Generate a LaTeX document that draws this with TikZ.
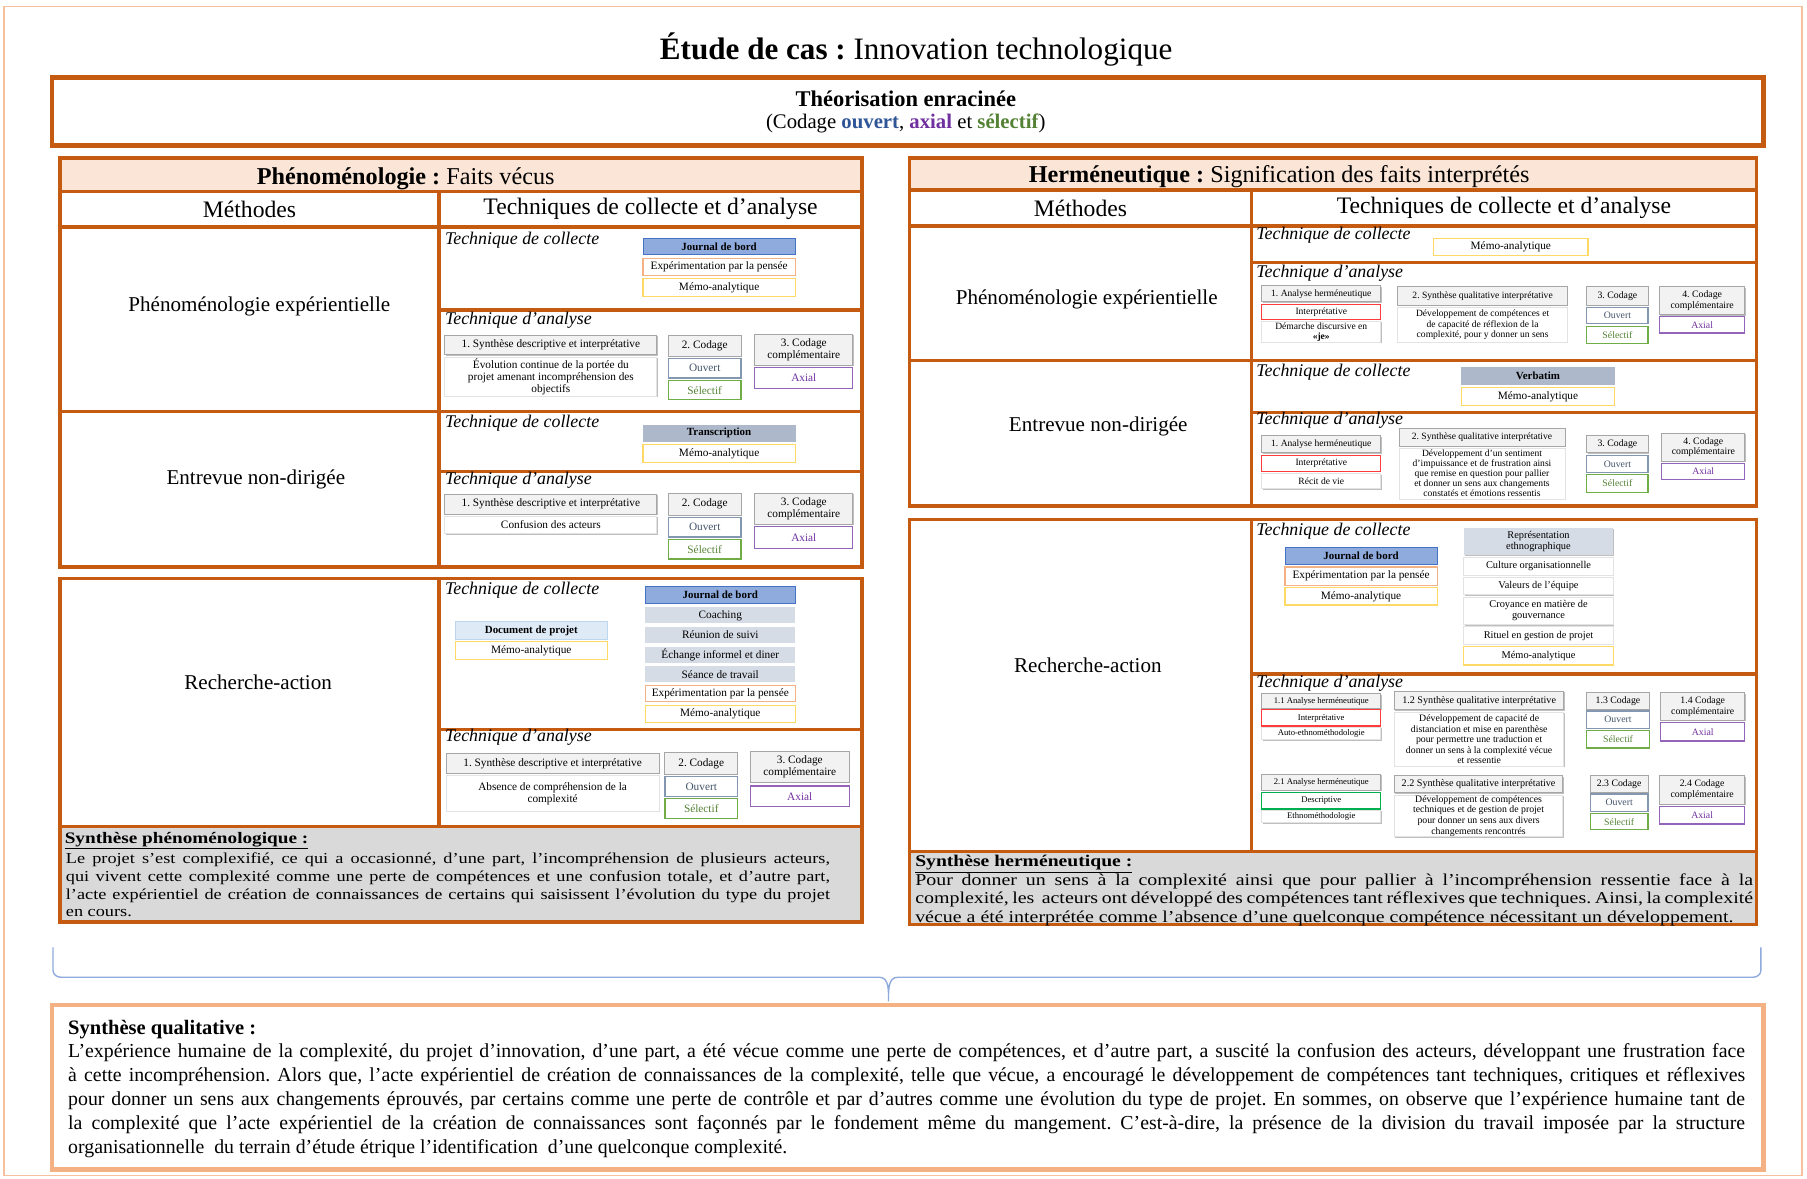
\documentclass[tikz,border=0pt]{standalone}
\usepackage{fontspec}
\setmainfont{Liberation Serif}
\newfontfamily\widefont{Liberation Serif}[FakeStretch=1.2]
\usetikzlibrary{shadows}
\frenchspacing

\definecolor{rust}{HTML}{C55A11}
\definecolor{peach}{HTML}{FBE5D6}
\definecolor{paleorange}{HTML}{F4B183}
\definecolor{jblue}{HTML}{8FAADC}
\definecolor{jblueline}{HTML}{4472C4}
\definecolor{slate}{HTML}{ADB9CA}
\definecolor{slateline}{HTML}{8497B0}
\definecolor{mist}{HTML}{D6DCE5}
\definecolor{ice}{HTML}{DEEBF7}
\definecolor{iceline}{HTML}{BDD7EE}
\definecolor{memoline}{HTML}{FFD966}
\definecolor{ouvtext}{HTML}{44546A}
\definecolor{seltext}{HTML}{548235}
\definecolor{selline}{HTML}{70AD47}
\definecolor{axicol}{HTML}{7030A0}
\definecolor{redline}{HTML}{FF3B3B}
\definecolor{greenline}{HTML}{00B050}
\definecolor{synthgrey}{HTML}{D9D9D9}
\definecolor{headgrey}{HTML}{F2F2F2}
\definecolor{headline}{HTML}{A6A6A6}
\definecolor{faint}{HTML}{E3E3E3}
\definecolor{bracecol}{HTML}{8FAADC}
\definecolor{codblue}{HTML}{2F5597}

% a box given by its top-left and bottom-right corners
\newcommand\Tbox[7]{\node[#1, anchor=north west, outer sep=0pt, inner sep=0pt,
  minimum width={(#5)-(#3)}, minimum height={(#6)-(#4)}] (#2) at (#3,#4) {#7};}

\tikzset{
  cellbox/.style={draw=rust, line width=3pt},
  boxbase/.style={align=center, line width=0.8pt},
  fL/.style={font=\fontsize{9.8}{10.5}\selectfont},
  fM/.style={font=\fontsize{8.5}{9.3}\selectfont},
  fR/.style={font=\fontsize{8.3}{9}\selectfont},
  fS/.style={font=\fontsize{7.5}{8.5}\selectfont},
  softshadow/.style={drop shadow={shadow xshift=0.8pt, shadow yshift=-0.8pt, opacity=0.25, fill=black}},
  hdrbox/.style={boxbase, fill=headgrey, draw=headline, softshadow},
  whitebox/.style={boxbase, fill=white, draw=faint, softshadow},
  ouvbox/.style={boxbase, fill=white, draw=slateline, text=ouvtext, line width=1pt},
  selbox/.style={boxbase, fill=white, draw=selline, text=seltext, line width=1pt},
  axibox/.style={boxbase, fill=white, draw=axicol!75, text=axicol, line width=1pt},
  jdbbox/.style={boxbase, fill=jblue, draw=jblueline, font=\fontsize{9.5}{10}\selectfont\bfseries},
  trsbox/.style={boxbase, fill=slate, draw=slate, font=\fontsize{9.5}{10}\selectfont\bfseries},
  docbox/.style={boxbase, fill=ice, draw=iceline, font=\fontsize{9.5}{10}\selectfont\bfseries},
  expbox/.style={boxbase, fill=white, draw=paleorange, line width=1pt},
  memobox/.style={boxbase, fill=white, draw=memoline, line width=1pt},
  greybox/.style={boxbase, fill=mist, draw=none},
  redbox/.style={boxbase, fill=white, draw=redline, line width=1pt},
  grnbox/.style={boxbase, fill=white, draw=greenline, line width=1pt},
  capt/.style={anchor=west, inner sep=0pt, font=\fontsize{15.5}{17}\selectfont\itshape},
  methtxt/.style={font=\fontsize{18.3}{20}\selectfont},
  colhead/.style={font=\fontsize{20.5}{22}\selectfont},
  panelhead/.style={font=\fontsize{21}{23}\selectfont},
}

\begin{document}
\begin{tikzpicture}[x=1pt,y=-1pt]
\useasboundingbox (0,0) rectangle (1568,1023);
\fill[white] (0,0) rectangle (1568,1023);
\draw[paleorange!80, line width=1.2pt] (3.5,5.5) rectangle (1563.5,1020);

% ---------- title and banner ----------
\node[font=\fontsize{27}{29}\selectfont] (title) at (795,43) {\textbf{Étude de cas :} Innovation technologique};
\Tbox{draw=rust, line width=4pt}{gt}{45}{67}{1530}{126}{}
\node[font=\fontsize{19.5}{21}\selectfont\bfseries] (gtA) at (786,86) {Théorisation enracinée};
\node[font=\fontsize{18}{20}\selectfont] (gtB) at (786,107.5) {(Codage \textcolor{codblue}{\textbf{ouvert}}, \textcolor{axicol}{\textbf{axial}} et \textcolor{seltext}{\textbf{sélectif}})};

% ---------- left panel: phenomenology ----------
\Tbox{cellbox, fill=peach}{Lhead}{52}{137}{748}{166}{}
\node[panelhead] (LheadT) at (352,155) {\textbf{Phénoménologie :} Faits vécus};
\Tbox{cellbox, colhead}{Lmeth}{52}{166}{381}{197}{Méthodes}
\Tbox{cellbox, colhead}{Ltech}{381}{166}{748}{197}{Techniques de collecte et d’analyse}
\Tbox{cellbox}{Lm1}{52}{197}{381}{357}{}
\Tbox{cellbox}{Lc1}{381}{197}{748}{269}{}
\Tbox{cellbox}{La1}{381}{269}{748}{357}{}
\Tbox{cellbox}{Lm2}{52}{357}{381}{492}{}
\Tbox{cellbox}{Lc2}{381}{357}{748}{409}{}
\Tbox{cellbox}{La2}{381}{409}{748}{492}{}
\Tbox{cellbox}{Lm3}{52}{502}{381}{717}{}
\Tbox{cellbox}{Lc3}{381}{502}{748}{633}{}
\Tbox{cellbox}{La3}{381}{633}{748}{717}{}
\Tbox{cellbox, fill=synthgrey}{Lsyn}{52}{717}{748}{800}{}

\node[methtxt] (Lm1T) at (225,266) {Phénoménologie expérientielle};
\node[methtxt] (Lm2T) at (222,416) {Entrevue non-dirigée};
\node[methtxt] (Lm3T) at (224,592) {Recherche-action};

\node[capt] (Lc1T) at (386,208) {Technique de collecte};
\node[capt] (La1T) at (386,278) {Technique d’analyse};
\node[capt] (Lc2T) at (386,367) {Technique de collecte};
\node[capt] (La2T) at (386,417) {Technique d’analyse};
\node[capt] (Lc3T) at (386,512) {Technique de collecte};
\node[capt] (La3T) at (386,640) {Technique d’analyse};

% row 1
\Tbox{jdbbox}{jdb1}{558}{207}{690}{221}{Journal de bord}
\Tbox{expbox, fL}{exp1}{558}{224}{690}{239}{Expérimentation  par la pensée}
\Tbox{memobox, fL}{memo1}{558}{242}{690}{257}{Mémo-analytique}
\Tbox{hdrbox, fL}{syn1h}{386}{291}{570}{308}{1. Synthèse descriptive et interprétative}
\Tbox{whitebox, fL}{syn1t}{386}{310}{570}{344}{Évolution continue de la portée du\\projet amenant incompréhension des\\objectifs}
\Tbox{hdrbox, fL}{cod1h}{580}{291}{643}{309}{2. Codage}
\Tbox{ouvbox, fL}{ouv1}{580}{311}{643}{328}{Ouvert}
\Tbox{selbox, fL}{sel1}{580}{330}{643}{347}{Sélectif}
\Tbox{hdrbox, fL}{cpl1h}{655}{290}{740}{317}{3. Codage\\complémentaire}
\Tbox{axibox, fL}{axi1}{655}{319}{740}{337}{Axial}

% row 2
\Tbox{trsbox}{trs2}{558}{369}{690}{383}{Transcription}
\Tbox{memobox, fL}{memo2}{558}{386}{690}{401}{Mémo-analytique}
\Tbox{hdrbox, fL}{syn2h}{386}{429}{570}{446}{1. Synthèse descriptive et interprétative}
\Tbox{whitebox, fL}{syn2t}{386}{448}{570}{463}{Confusion des acteurs}
\Tbox{hdrbox, fL}{cod2h}{580}{428}{643}{447}{2. Codage}
\Tbox{ouvbox, fL}{ouv2}{580}{449}{643}{466}{Ouvert}
\Tbox{selbox, fL}{sel2}{580}{468}{643}{485}{Sélectif}
\Tbox{hdrbox, fL}{cpl2h}{655}{428}{740}{455}{3. Codage\\complémentaire}
\Tbox{axibox, fL}{axi2}{655}{457}{740}{476}{Axial}

% row 3
\Tbox{docbox}{doc3}{395}{539}{527}{555}{Document de projet}
\Tbox{memobox, fL}{memo3a}{395}{557}{527}{572}{Mémo-analytique}
\Tbox{jdbbox}{jdb3}{560}{509}{690}{524}{Journal de bord}
\Tbox{greybox, fL}{coach3}{560}{527}{690}{541}{Coaching}
\Tbox{greybox, fL}{reun3}{560}{544}{690}{558}{Réunion de suivi}
\Tbox{greybox, fL}{ech3}{560}{561}{690}{575}{Échange informel  et diner}
\Tbox{greybox, fL}{sean3}{560}{578}{690}{592}{Séance de travail}
\Tbox{expbox, fL}{exp3}{560}{595}{690}{609}{Expérimentation  par la pensée}
\Tbox{memobox, fL}{memo3b}{560}{612}{690}{627}{Mémo-analytique}
\Tbox{hdrbox, fL}{syn3h}{387}{654}{572}{671}{1. Synthèse descriptive et interprétative}
\Tbox{whitebox, fL}{syn3t}{387}{673}{572}{704}{Absence de compréhension de la\\complexité}
\Tbox{hdrbox, fL}{cod3h}{577}{653}{640}{672}{2. Codage}
\Tbox{ouvbox, fL}{ouv3}{577}{674}{640}{691}{Ouvert}
\Tbox{selbox, fL}{sel3}{577}{693}{640}{710}{Sélectif}
\Tbox{hdrbox, fL}{cpl3h}{651}{652}{737}{679}{3. Codage\\complémentaire}
\Tbox{axibox, fL}{axi3}{651}{682}{737}{700}{Axial}

% synthesis
\node[anchor=north west, inner sep=0pt, font=\widefont\fontsize{13.9}{15}\selectfont\bfseries] (LsynT) at (56,722) {\underline{Synthèse phénoménologique :}};
\node[anchor=north west, inner sep=0pt, text width=663pt, align=justify,
  font=\widefont\fontsize{13.2}{15.4}\selectfont] (LsynB) at (57,740)
  {\tolerance=10000\hyphenpenalty=10000 Le projet s’est complexifié, ce qui a occasionné, d’une part, l’incompréhension de plusieurs acteurs,\linebreak
   qui vivent cette complexité comme une perte de compétences et une confusion totale, et d’autre part,\linebreak
   l’acte expérientiel de création de connaissances de certains qui saisissent l’évolution du type du projet\linebreak
   en cours.};

% ---------- right panel: hermeneutics ----------
\Tbox{cellbox, fill=peach}{Rhead}{789}{137}{1524}{165}{}
\node[panelhead] (RheadT) at (1110,153.5) {\textbf{Herméneutique :} Signification des faits interprétés};
\Tbox{cellbox, colhead}{Rmeth}{789}{165}{1086}{196}{Méthodes}
\Tbox{cellbox, colhead}{Rtech}{1086}{165}{1524}{196}{Techniques de collecte et d’analyse}
\Tbox{cellbox}{Rm1}{789}{196}{1086}{313}{}
\Tbox{cellbox}{Rc1}{1086}{196}{1524}{228}{}
\Tbox{cellbox}{Ra1}{1086}{228}{1524}{313}{}
\Tbox{cellbox}{Rm2}{789}{313}{1086}{439}{}
\Tbox{cellbox}{Rc2}{1086}{313}{1524}{358}{}
\Tbox{cellbox}{Ra2}{1086}{358}{1524}{439}{}
\Tbox{cellbox}{Rm3}{789}{451}{1086}{739}{}
\Tbox{cellbox}{Rc3}{1086}{451}{1524}{585}{}
\Tbox{cellbox}{Ra3}{1086}{585}{1524}{739}{}
\Tbox{cellbox, fill=synthgrey}{Rsyn}{789}{739}{1524}{802}{}

\node[methtxt] (Rm1T) at (943,260) {Phénoménologie expérientielle};
\node[methtxt] (Rm2T) at (953,370) {Entrevue non-dirigée};
\node[methtxt] (Rm3T) at (944,577) {Recherche-action};

\node[capt] (Rc1T) at (1090,204.5) {Technique de collecte};
\node[capt] (Ra1T) at (1090,237) {Technique d’analyse};
\node[capt] (Rc2T) at (1090,323) {Technique de collecte};
\node[capt] (Ra2T) at (1090,365) {Technique d’analyse};
\node[capt] (Rc3T) at (1090,461) {Technique de collecte};
\node[capt] (Ra3T) at (1090,593) {Technique d’analyse};

% row 1
\Tbox{memobox, fL}{memo4}{1244}{207}{1378}{222}{Mémo-analytique}
\Tbox{hdrbox, fR}{ana4h}{1095}{248}{1198}{262}{1. Analyse herméneutique}
\Tbox{redbox, fR}{int4}{1095}{264}{1198}{277}{Interprétative}
\Tbox{whitebox, fR}{dis4}{1095}{279}{1198}{297}{Démarche discursive en\\\textbf{«je»}}
\Tbox{hdrbox, fR}{syq4h}{1213}{249}{1360}{265}{2. Synthèse qualitative  interprétative}
\Tbox{whitebox, fR}{syq4t}{1213}{267}{1360}{297}{Développement de compétences et\\de capacité de réflexion de la\\complexité, pour y donner un sens}
\Tbox{hdrbox, fM}{cod4h}{1377}{249}{1430}{265}{3. Codage}
\Tbox{ouvbox, fM}{ouv4}{1377}{267}{1430}{281}{Ouvert}
\Tbox{selbox, fM}{sel4}{1377}{283}{1430}{298}{Sélectif}
\Tbox{hdrbox, fM}{cpl4h}{1440}{249}{1514}{273}{4. Codage\\complémentaire}
\Tbox{axibox, fM}{axi4}{1440}{275}{1514}{289}{Axial}

% row 2
\Tbox{trsbox}{vrb5}{1268}{319}{1401}{334}{Verbatim}
\Tbox{memobox, fL}{memo5}{1268}{336}{1401}{352}{Mémo-analytique}
\Tbox{hdrbox, fR}{ana5h}{1095}{378}{1198}{393}{1. Analyse herméneutique}
\Tbox{redbox, fR}{int5}{1095}{395}{1198}{409}{Interprétative}
\Tbox{whitebox, fR}{rec5}{1095}{411}{1198}{424}{Récit de vie}
\Tbox{hdrbox, fR}{syq5h}{1214}{372}{1358}{387}{2. Synthèse qualitative  interprétative}
\Tbox{whitebox, font=\fontsize{8.3}{8.7}\selectfont}{syq5t}{1214}{389}{1358}{433}{Développement d’un sentiment\\d’impuissance et de frustration ainsi\\que remise en question pour pallier\\et donner un sens aux changements\\constatés et émotions ressentis}
\Tbox{hdrbox, fM}{cod5h}{1377}{378}{1430}{393}{3. Codage}
\Tbox{ouvbox, fM}{ouv5}{1377}{395}{1430}{410}{Ouvert}
\Tbox{selbox, fM}{sel5}{1377}{412}{1430}{427}{Sélectif}
\Tbox{hdrbox, fM}{cpl5h}{1442}{376}{1514}{400}{4. Codage\\complémentaire}
\Tbox{axibox, fM}{axi5}{1442}{402}{1514}{416}{Axial}

% row 3: collection
\Tbox{jdbbox}{jdb6}{1115}{475}{1247}{490}{Journal de bord}
\Tbox{expbox, fL}{exp6}{1115}{492}{1247}{508}{Expérimentation  par la pensée}
\Tbox{memobox, fL}{memo6a}{1115}{510}{1247}{525}{Mémo-analytique}
\Tbox{greybox, font=\fontsize{9}{9.8}\selectfont, softshadow}{rep6}{1270}{458}{1400}{482}{Représentation\\ethnographique}
\Tbox{whitebox, font=\fontsize{9}{9.8}\selectfont}{cul6}{1270}{484}{1400}{499}{Culture  organisationnelle}
\Tbox{whitebox, font=\fontsize{9}{9.8}\selectfont}{val6}{1270}{501}{1400}{516}{Valeurs  de l’équipe}
\Tbox{whitebox, font=\fontsize{9}{9.8}\selectfont}{cro6}{1270}{518}{1400}{542}{Croyance en matière  de\\gouvernance}
\Tbox{whitebox, font=\fontsize{9}{9.8}\selectfont}{rit6}{1270}{544}{1400}{559}{Rituel  en gestion de projet}
\Tbox{memobox, font=\fontsize{9}{9.8}\selectfont}{memo6b}{1270}{561}{1400}{577}{Mémo-analytique}

% row 3: analysis, first line
\Tbox{hdrbox, fS}{a11}{1095}{602}{1198}{615}{1.1 Analyse herméneutique}
\Tbox{redbox, fS}{i11}{1095}{616}{1198}{630}{Interprétative}
\Tbox{whitebox, fS}{ae11}{1095}{631}{1198}{642}{Auto-ethnométhodologie}
\Tbox{hdrbox, font=\fontsize{8.8}{9.5}\selectfont}{s12h}{1210}{600}{1357}{616}{1.2 Synthèse qualitative  interprétative}
\Tbox{whitebox, font=\fontsize{8.5}{9.2}\selectfont}{s12t}{1210}{618}{1357}{665}{Développement  de capacité de\\distanciation  et mise en parenthèse\\pour permettre une traduction et\\donner un sens à la complexité  vécue\\et ressentie}
\Tbox{hdrbox, fM}{c13h}{1377}{601}{1431}{616}{1.3 Codage}
\Tbox{ouvbox, fM}{o13}{1377}{617}{1431}{632}{Ouvert}
\Tbox{selbox, fM}{s13}{1377}{634}{1431}{649}{Sélectif}
\Tbox{hdrbox, fM}{c14h}{1441}{601}{1514}{625}{1.4 Codage\\complémentaire}
\Tbox{axibox, fM}{x14}{1441}{627}{1514}{643}{Axial}

% row 3: analysis, second line
\Tbox{hdrbox, fS}{a21}{1095}{672}{1198}{686}{2.1 Analyse herméneutique}
\Tbox{grnbox, fS}{d21}{1095}{688}{1198}{702}{Descriptive}
\Tbox{whitebox, fS}{e21}{1095}{703}{1198}{714}{Ethnométhodologie}
\Tbox{hdrbox, font=\fontsize{8.8}{9.5}\selectfont}{s22h}{1210}{673}{1356}{688}{2.2 Synthèse qualitative  interprétative}
\Tbox{whitebox, font=\fontsize{8.5}{9.2}\selectfont}{s22t}{1210}{690}{1356}{726}{Développement  de compétences\\techniques et de gestion de projet\\pour donner un sens aux divers\\changements  rencontrés}
\Tbox{hdrbox, fM}{c23h}{1380}{673}{1430}{688}{2.3 Codage}
\Tbox{ouvbox, fM}{o23}{1380}{689}{1430}{704}{Ouvert}
\Tbox{selbox, fM}{s23}{1380}{706}{1430}{720}{Sélectif}
\Tbox{hdrbox, fM}{c24h}{1440}{673}{1514}{698}{2.4 Codage\\complémentaire}
\Tbox{axibox, fM}{x24}{1440}{700}{1514}{715}{Axial}

% synthesis
\node[anchor=north west, inner sep=0pt, font=\widefont\fontsize{14.2}{15}\selectfont\bfseries] (RsynT) at (794,742) {\underline{Synthèse herméneutique :}};
\node[anchor=north west, inner sep=0pt, text width=727pt, align=justify,
  font=\widefont\fontsize{14.4}{16}\selectfont] (RsynB) at (794,758)
  {\tolerance=10000\hyphenpenalty=10000 Pour donner un sens à la complexité ainsi que pour pallier à l’incompréhension ressentie face à la\linebreak
   complexité, les\ \ acteurs ont développé des compétences tant réflexives que techniques. Ainsi, la complexité\linebreak
   vécue a été interprétée comme l’absence d’une quelconque compétence nécessitant un développement.};

% ---------- brace joining both panels ----------
\coordinate (brL) at (46,822);
\coordinate (brR) at (1528,822);
\coordinate (brTip) at (771,869);
\draw[bracecol, line width=1.2pt]
  (brL) -- (46,842) to[out=-90,in=180] (53,848) -- (763,848)
  to[out=0,in=90] (brTip) to[out=90,in=180] (779,848) -- (1521,848)
  to[out=0,in=-90] (1528,842) -- (brR);

% ---------- qualitative synthesis ----------
\Tbox{draw=paleorange, line width=4pt}{qs}{45}{872}{1530}{1015}{}
\node[anchor=north west, inner sep=0pt, font=\fontsize{17.8}{19}\selectfont\bfseries] (qsT) at (59,885) {Synthèse qualitative :};
\node[anchor=north west, inner sep=0pt, text width=1455pt, align=justify,
  font=\fontsize{17.2}{21}\selectfont] (qsB) at (59,905)
  {\tolerance=10000\hyphenpenalty=10000 L’expérience humaine de la complexité, du projet d’innovation, d’une part, a été vécue comme une perte de compétences, et d’autre part, a suscité la confusion des acteurs, développant une frustration face\linebreak
   à cette incompréhension. Alors que, l’acte expérientiel de création de connaissances de la complexité, telle que vécue, a encouragé le développement de compétences tant techniques, critiques et réflexives\linebreak
   pour donner un sens aux changements éprouvés, par certains comme une perte de contrôle et par d’autres comme une évolution du type de projet. En sommes, on observe que l’expérience humaine tant de\linebreak
   la complexité que l’acte expérientiel de la création de connaissances sont façonnés par le fondement même du mangement. C’est-à-dire, la présence de la division du travail imposée par la structure\linebreak
   organisationnelle\ \ du terrain d’étude étrique l’identification\ \ d’une quelconque complexité.};
\end{tikzpicture}
\end{document}
